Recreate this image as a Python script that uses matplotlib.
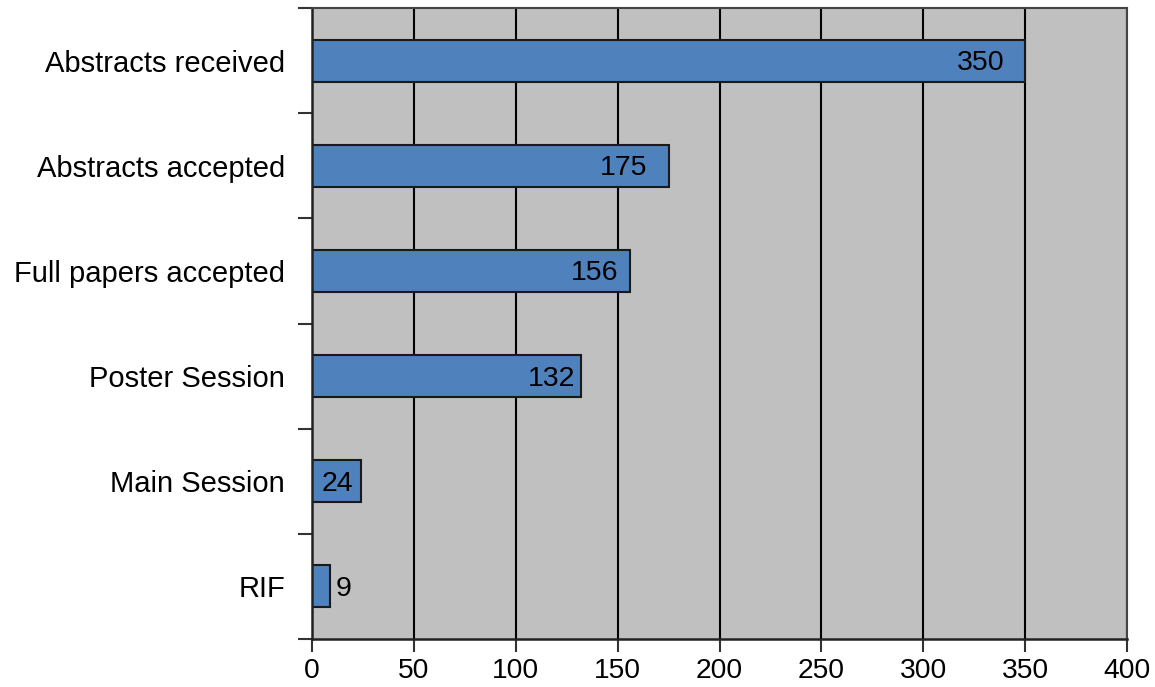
import matplotlib
matplotlib.use("Agg")
import matplotlib.pyplot as plt
from matplotlib.ticker import FixedLocator
import matplotlib.transforms as mtransforms

categories = ["Abstracts received", "Abstracts accepted", "Full papers accepted",
              "Poster Session", "Main Session", "RIF"]
values = [350, 175, 156, 132, 24, 9]
x_ticks = [0, 50, 100, 150, 200, 250, 300, 350, 400]

# label placement (pixel offset of label's right edge from bar end; positive = outside, left aligned)
label_offsets = [-21, -21, -11, -6, -8, 5]

plt.rcParams['font.family'] = ['Liberation Sans', 'DejaVu Sans']

fig = plt.figure(figsize=(11.55, 6.87), dpi=100)
ax = fig.add_axes([312/1155, 1-639/687, (1127-312)/1155, (639-8)/687])

ypos = list(range(len(categories)))
ax.barh(ypos, values, height=0.4, color="#4F81BD", edgecolor="#1a1a1a",
        linewidth=1.5, zorder=3)

ax.set_xlim(0, 400)
ax.set_ylim(len(categories) - 0.5, -0.5)
ax.set_facecolor("#C0C0C0")

ax.xaxis.set_major_locator(FixedLocator(x_ticks))
ax.set_xticklabels([str(t) for t in x_ticks], fontsize=20.3)
ax.tick_params(axis='x', which='major', direction='out', length=9, width=1.5,
               color="#333333", pad=5)
ax.grid(axis='x', color='black', linewidth=1.5, zorder=1)

# y: boundaries as major ticks, labels on minor ticks
ax.yaxis.set_major_locator(FixedLocator([i - 0.5 for i in range(len(categories) + 1)]))
ax.yaxis.set_minor_locator(FixedLocator(ypos))
ax.set_yticklabels([], minor=False)
ax.set_yticklabels(categories, minor=True, fontsize=21)
ax.tick_params(axis='y', which='major', direction='out', length=10, width=1.5,
               color="#333333")
ax.tick_params(axis='y', which='minor', length=0, pad=19.5)

for side in ['top', 'right']:
    ax.spines[side].set_color("#444444")
    ax.spines[side].set_linewidth(1.5)
for side in ['left', 'bottom']:
    ax.spines[side].set_color("#222222")
    ax.spines[side].set_linewidth(1.8)
for s in ax.spines.values():
    s.set_zorder(4)

for y, v, off in zip(ypos, values, label_offsets):
    trans = mtransforms.offset_copy(ax.transData, fig=fig, x=off, y=-2.5, units='dots')
    ha = 'left' if off > 0 else 'right'
    ax.text(v, y, str(v), transform=trans, ha=ha, va='center', fontsize=20.5,
            color='black', zorder=5)

fig.savefig("out.png", dpi=100)
